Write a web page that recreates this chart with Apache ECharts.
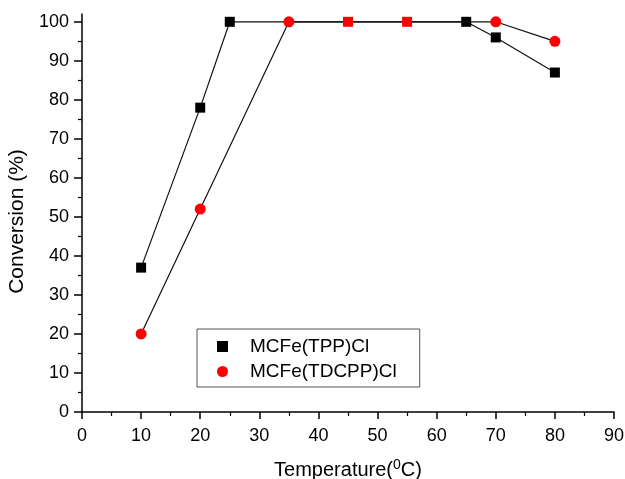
<!DOCTYPE html>
<html>
<head>
<meta charset="utf-8">
<script src="https://cdn.jsdelivr.net/npm/echarts@6/dist/echarts.min.js"></script>
<style>
html,body{margin:0;padding:0;background:#fff;}
#chart{width:625px;height:479px;}
</style>
</head>
<body>
<div id="chart"></div>
<script>
// Data
const seriesNames = ['MCFe(TPP)Cl', 'MCFe(TDCPP)Cl'];
const tppTemps = [10, 20, 25, 65, 70, 80];
const tppConv = [37, 78, 100, 100, 96, 87];
const tdcppTemps = [10, 20, 35, 45, 55, 70, 80];
const tdcppConv = [20, 52, 100, 100, 100, 100, 95];
const tdcppSymbols = ['circle', 'circle', 'circle', 'rect', 'rect', 'circle', 'circle'];
const yMajorTicks = [0, 10, 20, 30, 40, 50, 60, 70, 80, 90, 100];
const yMinorTicks = [5, 15, 25, 35, 45, 55, 65, 75, 85, 95];

const FONT = "'Liberation Sans', Arial, sans-serif";
const chart = echarts.init(document.getElementById('chart'), null, {renderer: 'canvas'});

const tppData = tppTemps.map((t, i) => [t, tppConv[i]]);
const tdcppData = tdcppTemps.map((t, i) => ({value: [t, tdcppConv[i]], symbol: tdcppSymbols[i], symbolSize: tdcppSymbols[i] === 'rect' ? 10 : 11}));

chart.setOption({
  animation: false,
  backgroundColor: '#fff',
  textStyle: {fontFamily: FONT},
  grid: {left: 82, right: 11, top: 14, bottom: 67, containLabel: false, outerBoundsMode: 'none'},
  legend: {
    orient: 'vertical',
    left: 197,
    top: 329,
    padding: [8, 23, 6, 20],
    itemGap: 6,
    itemWidth: 11,
    itemHeight: 11,
    borderColor: '#555',
    borderWidth: 1,
    textStyle: {fontSize: 19, color: '#000', fontFamily: FONT, padding: [0, 0, 0, 17]},
    data: [
      {name: seriesNames[0], icon: 'rect'},
      {name: seriesNames[1], icon: 'circle'}
    ]
  },
  xAxis: {
    type: 'value',
    min: 0, max: 90, interval: 10,
    name: 'Temperature({sup|0}C)',
    nameLocation: 'middle',
    nameGap: 46,
    nameTextStyle: {
      fontSize: 20, color: '#000', fontFamily: FONT,
      rich: {sup: {fontSize: 14, verticalAlign: 'top', padding: [0, 0, 10, 0], color: '#000', fontFamily: FONT}}
    },
    splitLine: {show: false},
    axisLine: {lineStyle: {color: '#000', width: 1.5}},
    axisTick: {show: true, length: 7, lineStyle: {color: '#000', width: 1.5}},
    minorTick: {show: true, splitNumber: 2, length: 4, lineStyle: {color: '#000', width: 1.2}},
    axisLabel: {fontSize: 18, color: '#000', margin: 15, fontFamily: FONT}
  },
  yAxis: [{
    type: 'value',
    min: 0, max: 102,
    name: 'Conversion (%)',
    nameLocation: 'middle',
    nameGap: 48,
    nameTextStyle: {fontSize: 21, color: '#000', fontFamily: FONT, padding: [0, 17, 0, 0]},
    splitLine: {show: false},
    axisLine: {show: true, lineStyle: {color: '#000', width: 1.5}},
    axisTick: {show: true, length: 8, customValues: yMajorTicks, lineStyle: {color: '#000', width: 1.5}},
    axisLabel: {fontSize: 18, color: '#000', margin: 13, customValues: yMajorTicks, fontFamily: FONT}
  }, {
    type: 'value',
    min: 0, max: 102,
    position: 'left',
    offset: 0,
    splitLine: {show: false},
    axisLine: {show: false},
    axisTick: {show: true, length: 4, customValues: yMinorTicks, lineStyle: {color: '#000', width: 1.2}},
    axisLabel: {show: false}
  }],
  series: [{
    name: seriesNames[0],
    type: 'line',
    data: tppData,
    symbol: 'rect',
    symbolSize: 10,
    itemStyle: {color: '#000'},
    lineStyle: {color: '#111', width: 1.2},
    z: 2
  }, {
    name: seriesNames[1],
    type: 'line',
    data: tdcppData,
    symbol: 'circle',
    symbolSize: 11,
    itemStyle: {color: '#ff0000'},
    lineStyle: {color: '#111', width: 1.2},
    z: 3
  }]
});
</script>
</body>
</html>
